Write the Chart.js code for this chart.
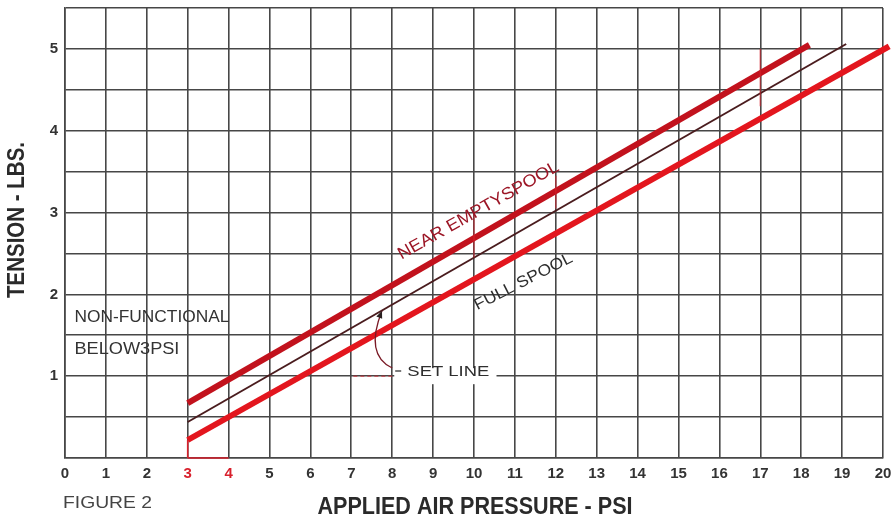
<!DOCTYPE html>
<html>
<head>
<meta charset="utf-8">
<script src="https://cdn.jsdelivr.net/npm/chart.js@4.4.1/dist/chart.umd.min.js"></script>
<style>
  html, body { margin: 0; padding: 0; background: #fff; }
  #wrap { width: 893px; height: 523px; position: relative; }
</style>
</head>
<body>
<div id="wrap"><canvas id="myChart"></canvas></div>
<script>
// end points of each line: applied air pressure (psi) -> tension (lbs)
const nearEmptyPsi = [3, 18.2];
const nearEmptyLbs = [0.67, 5.05];
const setLinePsi = [3, 19.1];
const setLineLbs = [0.44, 5.06];
const fullSpoolPsi = [3, 20.15];
const fullSpoolLbs = [0.22, 5.03];

const psiTicks = [0, 1, 2, 3, 4, 5, 6, 7, 8, 9, 10, 11, 12, 13, 14, 15, 16, 17, 18, 19, 20];
const lbsTicks = [1, 2, 3, 4, 5];
const redPsiTicks = [3, 4];

const FONT = '"Liberation Sans", Arial, sans-serif';
const gridColor = '#474747';
const red = '#d8202c';

function toPoints(xs, ys) {
  return xs.map((x, i) => ({ x: x, y: ys[i] }));
}

// draws text squeezed/stretched to a given width
function fitText(ctx, text, x, y, width, angle, font, color, align) {
  ctx.save();
  ctx.font = font;
  ctx.fillStyle = color;
  ctx.textAlign = align || 'left';
  ctx.textBaseline = 'middle';
  ctx.translate(x, y);
  ctx.rotate(angle);
  const w = ctx.measureText(text).width;
  ctx.scale(width / w, 1);
  ctx.fillText(text, 0, 0);
  ctx.restore();
}

const figureText = {
  id: 'figureText',
  afterDatasetsDraw(chart) {
    const ctx = chart.ctx;
    const xs = chart.scales.x;
    const ys = chart.scales.y;
    const px = v => xs.getPixelForValue(v);
    const py = v => ys.getPixelForValue(v);
    const deg = Math.PI / 180;

    // red accents on the grid
    ctx.save();
    ctx.strokeStyle = red;
    ctx.lineWidth = 1.6;
    ctx.beginPath();
    ctx.moveTo(px(3), py(0)); ctx.lineTo(px(3), py(0.22));
    ctx.moveTo(px(3), py(0)); ctx.lineTo(px(4), py(0));
    ctx.stroke();
    ctx.globalAlpha = 0.55;
    ctx.beginPath();
    ctx.moveTo(px(10), py(2.45)); ctx.lineTo(px(10), py(3.0));
    ctx.moveTo(px(12), py(3.05)); ctx.lineTo(px(12), py(3.45));
    ctx.moveTo(px(17), py(4.3)); ctx.lineTo(px(17), py(5.0));
    ctx.stroke();
    ctx.setLineDash([4, 3]);
    ctx.beginPath();
    ctx.moveTo(px(7.05), py(1)); ctx.lineTo(px(8.0), py(1));
    ctx.stroke();
    ctx.restore();

    // white gap in the grid behind "SET LINE"
    ctx.fillStyle = '#fff';
    ctx.fillRect(px(8.05), py(1) - 8, px(10.55) - px(8.05), 16);

    // curved pointer to the set line
    const tipX = px(7.75), tipY = py(1.8);
    const cX = px(7.32), cY = py(1.26);
    const eX = px(8.0), eY = py(1.1);
    ctx.save();
    ctx.strokeStyle = '#7a1a26';
    ctx.lineWidth = 1.3;
    ctx.beginPath();
    ctx.moveTo(tipX, tipY);
    ctx.quadraticCurveTo(cX, cY, eX, eY);
    ctx.stroke();
    ctx.beginPath();
    ctx.moveTo(eX + 3, eY + 3); ctx.lineTo(eX + 9, eY + 3);
    ctx.strokeStyle = '#333';
    ctx.stroke();
    const a = Math.atan2(tipY - cY, tipX - cX);
    ctx.fillStyle = '#2a2020';
    ctx.beginPath();
    ctx.moveTo(tipX, tipY);
    ctx.lineTo(tipX - 8 * Math.cos(a - 0.4), tipY - 8 * Math.sin(a - 0.4));
    ctx.lineTo(tipX - 8 * Math.cos(a + 0.4), tipY - 8 * Math.sin(a + 0.4));
    ctx.closePath();
    ctx.fill();
    ctx.restore();

    fitText(ctx, 'SET LINE', px(8.37), py(1.05), 82, 0, '15px ' + FONT, '#2e2e2e');

    // labels on the plot
    fitText(ctx, 'NON-FUNCTIONAL', px(0.23), py(1.72), 155, 0, '16px ' + FONT, '#333');
    fitText(ctx, 'BELOW3PSI', px(0.23), py(1.32), 105, 0, '16px ' + FONT, '#333');
    fitText(ctx, 'NEAR EMPTYSPOOL', px(8.1) + 3, py(2.4) - 6, 182, -29.5 * deg, '17px ' + FONT, '#9c1626');
    fitText(ctx, 'FULL SPOOL', px(9.96) + 3, py(1.78) - 6, 108, -27 * deg, '16px ' + FONT, '#2e2e2e');

    // axis titles and figure caption
    fitText(ctx, 'TENSION - LBS.', 18, 220, 156, -90 * deg, 'bold 23px ' + FONT, '#2a2a2a', 'center');
    fitText(ctx, 'APPLIED AIR PRESSURE - PSI', 475, 508, 315, 0, 'bold 23px ' + FONT, '#2a2a2a', 'center');
    fitText(ctx, 'FIGURE 2', 63, 503, 89, 0, '17px ' + FONT, '#444');
  }
};

const ctx = document.getElementById('myChart');

const myChart = new Chart(ctx, {
  type: 'scatter',
  data: {
    datasets: [
      {
        label: 'Near empty spool',
        data: toPoints(nearEmptyPsi, nearEmptyLbs),
        showLine: true,
        borderColor: '#c2121d',
        borderWidth: 6,
        pointRadius: 0,
        clip: false,
      },
      {
        label: 'Set line',
        data: toPoints(setLinePsi, setLineLbs),
        showLine: true,
        borderColor: '#4a1c1e',
        borderWidth: 2,
        pointRadius: 0,
        clip: false,
      },
      {
        label: 'Full spool',
        data: toPoints(fullSpoolPsi, fullSpoolLbs),
        showLine: true,
        borderColor: '#e3161e',
        borderWidth: 6,
        pointRadius: 0,
        clip: false,
      },
    ],
  },
  options: {
    responsive: true,
    maintainAspectRatio: false,
    animation: false,
    layout: { padding: { top: 8, right: 10, left: 0, bottom: 0 } },
    plugins: {
      legend: { display: false },
      tooltip: { enabled: false },
    },
    scales: {
      x: {
        type: 'linear',
        min: 0,
        max: 20,
        afterFit: (scale) => { scale.height = 65; scale.paddingRight = 0; scale.paddingLeft = 0; },
        grid: { color: gridColor, lineWidth: 1.6, drawTicks: false },
        border: { color: gridColor, width: 1.6 },
        ticks: {
          stepSize: 1,
          padding: 7,
          autoSkip: false,
          maxRotation: 0,
          font: { family: FONT, size: 15, weight: 'bold' },
          color: (c) => redPsiTicks.includes(c.tick.value) ? red : '#333',
          callback: (v) => psiTicks.includes(v) ? String(v) : '',
        },
      },
      y: {
        min: 0,
        max: 5.5,
        afterFit: (scale) => { scale.width = 65; scale.paddingTop = 0; scale.paddingBottom = 0; },
        grid: { color: gridColor, lineWidth: 1.6, drawTicks: false },
        border: { color: gridColor, width: 1.6 },
        ticks: {
          stepSize: 0.5,
          padding: 7,
          autoSkip: false,
          font: { family: FONT, size: 15, weight: 'bold' },
          color: '#333',
          callback: (v) => lbsTicks.includes(Math.round(v * 100) / 100) ? String(v) : '',
        },
      },
    },
  },
  plugins: [figureText],
});
</script>
</body>
</html>
